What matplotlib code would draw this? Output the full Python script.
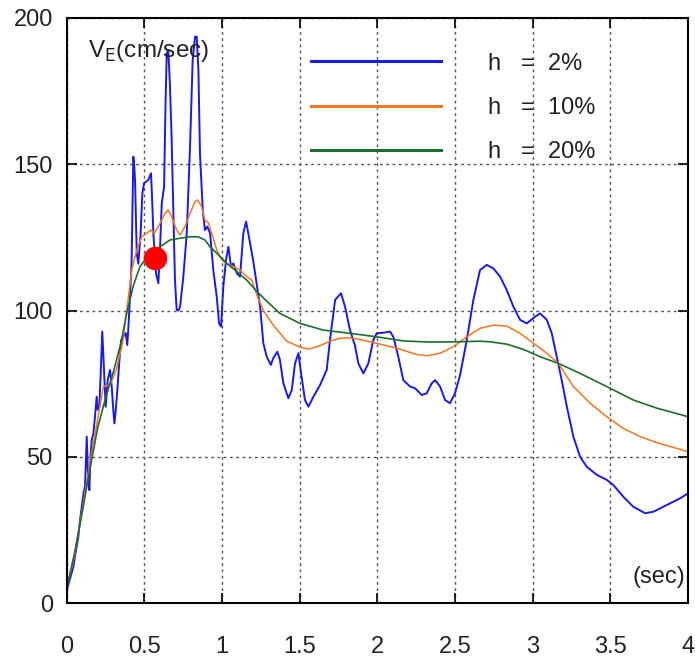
import numpy as np
import matplotlib
matplotlib.use('Agg')
import matplotlib.pyplot as plt

# ---- data ----
t_h2 = [0.004, 0.02, 0.043, 0.06, 0.075, 0.085, 0.097, 0.11, 0.118, 0.129, 0.137, 0.146,
        0.153, 0.161, 0.172, 0.182, 0.193, 0.2, 0.21, 0.22, 0.229, 0.24, 0.251, 0.258,
        0.264, 0.279, 0.29, 0.3, 0.307, 0.316, 0.326, 0.338, 0.35, 0.365, 0.38, 0.39,
        0.397, 0.408, 0.418, 0.429, 0.434, 0.44, 0.451, 0.461, 0.476, 0.487, 0.498, 0.51,
        0.525, 0.543, 0.55, 0.558, 0.575, 0.59, 0.6, 0.612, 0.627, 0.636, 0.644, 0.654,
        0.665, 0.675, 0.683, 0.697, 0.708, 0.72, 0.73, 0.751, 0.773, 0.794, 0.811, 0.826,
        0.837, 0.848, 0.858, 0.876, 0.89, 0.905, 0.923, 0.944, 0.966, 0.981, 0.994, 1.008,
        1.026, 1.041, 1.058, 1.073, 1.095, 1.116, 1.137, 1.155, 1.169, 1.2, 1.245, 1.266,
        1.288, 1.314, 1.33, 1.356, 1.373, 1.395, 1.427, 1.449, 1.47, 1.492, 1.509, 1.534,
        1.556, 1.588, 1.631, 1.674, 1.695, 1.728, 1.766, 1.792, 1.824, 1.856, 1.878, 1.91,
        1.942, 1.974, 1.996, 2.039, 2.082, 2.103, 2.135, 2.167, 2.211, 2.243, 2.286, 2.318,
        2.35, 2.372, 2.404, 2.436, 2.468, 2.5, 2.533, 2.576, 2.618, 2.661, 2.704, 2.747,
        2.79, 2.833, 2.876, 2.919, 2.962, 3.016, 3.048, 3.091, 3.123, 3.155, 3.187, 3.22,
        3.262, 3.305, 3.348, 3.413, 3.477, 3.52, 3.584, 3.648, 3.724, 3.777, 3.864, 3.95, 4.0]
v_h2 = [5.0, 8, 12.4, 18, 22.7, 28, 33, 38, 39.8, 56.9, 44, 38.6,
        50, 55.7, 58, 63.7, 70.5, 66, 67, 80, 92.8, 79.7, 67.1, 72,
        76.2, 79.7, 73.9, 66, 61.4, 66, 72.8, 82, 89.9, 91, 92.3, 88.2,
        94, 105, 117, 152.6, 150, 144.6, 119.6, 116, 126.4, 140, 143.5, 144,
        144.6, 146.9, 138, 126.4, 112.7, 109.3, 120, 136.6, 142.3, 170, 187.9, 189,
        176.5, 160, 142.3, 110.4, 100.2, 100, 101.3, 111.6, 126.4, 156, 185.6, 193.6,
        193.6, 182.2, 153.7, 134.4, 127.5, 128.7, 126.4, 113.8, 104.7, 95.6, 94.5, 108.1,
        117.3, 121.8, 115, 116.1, 112.7, 111.6, 126.4, 130.4, 126.4, 117.3, 101.3, 88.8,
        84.2, 81.4, 83.7, 85.9, 83.1, 75.1, 70, 72.8, 81.9, 85.4, 78.5, 69.4,
        67.1, 70.5, 74.5, 79.7, 89.9, 103.6, 105.9, 101.3, 93.3, 88, 81.9, 78.5,
        81.9, 89.9, 92.2, 92.4, 92.8, 91, 84.2, 76.2, 74, 73.4, 71.1, 71.7,
        75.1, 76.2, 74, 69.4, 68.3, 71.7, 78, 90, 103.6, 113.8, 115.6, 114.4,
        111.6, 107, 101.3, 96.8, 95.6, 97.9, 99, 96.8, 92.2, 84.2, 76.2, 67.1,
        56.9, 50, 46.6, 43.8, 42.1, 40.3, 36.3, 32.9, 30.7, 31.2, 33.5, 35.8, 37.5]

t_h10 = [0, 0.05, 0.1, 0.15, 0.2, 0.236, 0.279, 0.32, 0.36, 0.386, 0.408, 0.418, 0.451,
         0.483, 0.515, 0.543, 0.565, 0.601, 0.633, 0.654, 0.676, 0.708, 0.73, 0.762, 0.794,
         0.826, 0.843, 0.869, 0.89, 0.912, 0.934, 0.966, 0.998, 1.03, 1.073, 1.116, 1.159,
         1.191, 1.223, 1.266, 1.33, 1.417, 1.5, 1.56, 1.631, 1.695, 1.76, 1.803, 1.87,
         1.996, 2.125, 2.25, 2.318, 2.404, 2.489, 2.576, 2.661, 2.747, 2.833, 2.919, 3.005,
         3.091, 3.166, 3.262, 3.37, 3.477, 3.584, 3.691, 3.8, 3.906, 4.0]
v_h10 = [5, 16, 32, 48, 63, 74, 74.5, 80, 89, 100, 109, 113.8, 120.7,
         125.2, 126.4, 127.5, 126.4, 129.8, 133.2, 134.4, 132, 127.5, 125.8, 128.7, 133.2,
         137.2, 137.8, 135.5, 130.9, 130, 126.4, 120.7, 117.3, 116.1, 115, 113.8, 111.6,
         110.4, 105.5, 100, 95, 89.5, 87.5, 86.8, 88, 89.5, 90.5, 90.7, 90.3,
         88.8, 87.1, 85, 84.5, 85.4, 87.6, 91, 93.9, 95, 94.7, 92.2, 88.8,
         85.4, 81.9, 74, 68.3, 63.7, 59.7, 56.9, 54.8, 53.2, 51.7]

t_h20 = [0, 0.05, 0.1, 0.15, 0.2, 0.25, 0.3, 0.35, 0.386, 0.429, 0.472, 0.536, 0.601,
         0.665, 0.73, 0.794, 0.848, 0.89, 0.923, 0.966, 1.03, 1.095, 1.159, 1.223, 1.288,
         1.373, 1.502, 1.652, 1.824, 1.996, 2.167, 2.339, 2.511, 2.661, 2.726, 2.833, 2.94,
         3.048, 3.166, 3.305, 3.477, 3.648, 3.8, 4.0]
v_h20 = [5, 17, 31, 46, 60, 70, 79, 89, 99, 108.5, 115, 119.6, 121.8,
         124.1, 124.7, 125.2, 125.2, 124.1, 121.8, 119.6, 116.1, 113.3, 110.4, 106.6, 103.2,
         99, 95.6, 93.3, 92.2, 91, 89.6, 89.2, 89.3, 89.5, 89.3, 88.5, 86.7,
         84.2, 81.9, 78.5, 74, 69.4, 66.6, 63.7]

point_t = [0.571]
point_v = [117.8]

labels = ['h   =  2%', 'h   =  10%', 'h   =  20%']
xticks = [0, 0.5, 1, 1.5, 2, 2.5, 3, 3.5, 4]
xticklabels = ['0', '0.5', '1', '1.5', '2', '2.5', '3', '3.5', '4']
yticks = [0, 50, 100, 150, 200]

# ---- plot ----
plt.rcParams['font.family'] = ['Liberation Sans', 'DejaVu Sans']

fig = plt.figure(figsize=(6.95, 6.59), dpi=100)
ax = fig.add_axes([66.7 / 695, 56 / 659, 621.3 / 695, 585 / 659])

ax.plot(t_h2, v_h2, color='#1a1ae6', lw=1.4, label=labels[0])
ax.plot(t_h10, v_h10, color='#f5761e', lw=1.1, label=labels[1])
ax.plot(t_h20, v_h20, color='#1b6e2c', lw=1.2, label=labels[2])
ax.plot(point_t, point_v, 'o', color='#ff0000', ms=16, zorder=5)

ax.set_xlim(0, 4)
ax.set_ylim(0, 200)
ax.set_xticks(xticks)
ax.set_xticklabels(xticklabels)
ax.set_yticks(yticks)
ax.grid(True, color='#555555', linestyle=(0, (2, 2.5)), linewidth=1.0)
ax.set_axisbelow(True)

ax.tick_params(direction='in', length=7, width=1.2, top=True, right=True,
               labelsize=17, labelcolor='#222222')
ax.tick_params(axis='x', pad=24)
ax.tick_params(axis='y', pad=10)
for s in ax.spines.values():
    s.set_linewidth(1.5)

ax.text(0.034, 0.965, r'V$_{\mathrm{E}}$(cm/sec)', transform=ax.transAxes,
        fontsize=17.5, va='top', ha='left', color='#222222')
ax.text(0.995, 0.045, '(sec)', transform=ax.transAxes, fontsize=17,
        va='center', ha='right', color='#222222')

leg = ax.legend(loc='upper left', bbox_to_anchor=(0.393, 0.941), frameon=False,
                fontsize=17, handlelength=5.5, handletextpad=2.0,
                labelspacing=0.95, borderpad=0, borderaxespad=0)
for txt in leg.get_texts():
    txt.set_color('#222222')
for ln in leg.get_lines():
    ln.set_linewidth(2.2)

fig.savefig('out.png', dpi=100)
